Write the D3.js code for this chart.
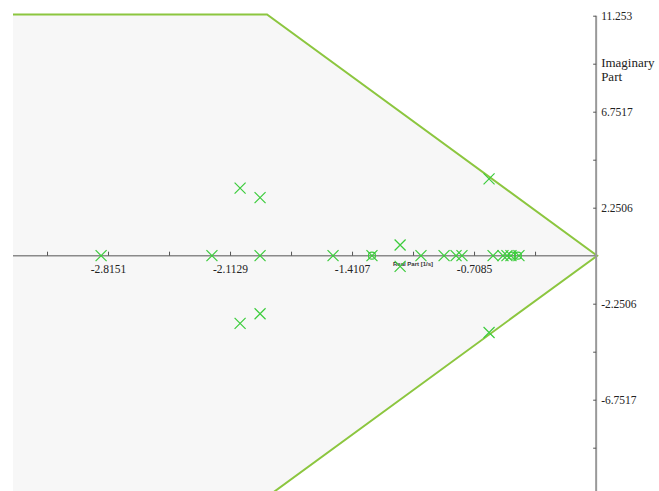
<!DOCTYPE html>
<html>
<head>
<meta charset="utf-8">
<script src="https://cdn.jsdelivr.net/npm/d3@7"></script>
<style>
  body { margin: 0; background: #fff; }
  svg { display: block; }
  text { font-family: "Liberation Serif", "Times New Roman", serif; fill: #222; }
</style>
</head>
<body>
<div id="chart"></div>
<script>
// chart size
let svgWidth = 659;
let svgHeight = 491;

// tick values
let xTicks = [-3.1662, -2.8151, -2.464, -2.1129, -1.7618, -1.4107, -1.0596, -0.7085, -0.3574];
let xTickLabels = ["", "-2.8151", "", "-2.1129", "", "-1.4107", "", "-0.7085", ""];
let yTicks = [11.253, 9.0024, 6.7517, 4.5012, 2.2506, -2.2506, -4.5012, -6.7517, -9.0024, -11.253];
let yTickLabels = ["11.253", "", "6.7517", "", "2.2506", "-2.2506", "", "-6.7517", "", "-11.253"];

// poles (x markers)
let poleRe = [-2.855, -2.217, -2.055, -2.055, -1.94, -1.94, -1.94, -1.52, -1.296, -1.134, -1.134,
              -1.014, -0.881, -0.812, -0.778, -0.622, -0.622, -0.599, -0.542, -0.519, -0.496, -0.45];
let poleIm = [0, 0, 3.17, -3.17, 2.72, -2.72, 0, 0, 0, 0.5, -0.5,
              0, 0, 0, 0, 3.6, -3.6, 0, 0, 0, 0, 0];

// zeros (circles)
let zeroRe = [-1.296, -0.49, -0.456];
let zeroIm = [0, 0, 0];

// damping / frequency region boundary
let regionRe = [-3.362, -1.9, 0, -1.9, -3.362];
let regionIm = [11.31, 11.31, 0, -11.31, -11.31];

let xScale = d3.scaleLinear().domain([-3.362, 0.356]).range([13, 659]);
let yScale = d3.scaleLinear().domain([-11.253, 11.253]).range([495.7, 15.7]);

let svg = d3.select("#chart")
  .append("svg")
  .attr("width", svgWidth)
  .attr("height", svgHeight);

// shaded region
let regionPts = regionRe.map((r, i) => [xScale(r), yScale(regionIm[i])]);
svg.append("path")
  .attr("d", d3.line()(regionPts))
  .attr("fill", "#f7f7f7")
  .attr("stroke", "none");
svg.append("path")
  .attr("d", d3.line()(regionPts.slice(0, 4)))
  .attr("fill", "none")
  .attr("stroke", "#8cc63f")
  .attr("stroke-width", 2);

// x axis (ticks pointing up)
let xAxis = d3.axisTop(xScale)
  .tickValues(xTicks)
  .tickSize(4)
  .tickSizeOuter(0)
  .tickFormat("");
let xg = svg.append("g")
  .attr("transform", `translate(0, ${yScale(0)})`)
  .call(xAxis);
xg.select(".domain")
  .attr("d", `M${xScale(-3.362)},0H${xScale(0)}`)
  .attr("stroke", "#8a8a8a")
  .attr("stroke-width", 1.6);
xg.selectAll(".tick line").attr("stroke", "#555").attr("stroke-width", 1);
xg.selectAll(".tick")
  .append("text")
  .attr("y", 17)
  .attr("text-anchor", "middle")
  .style("font-size", "11.5px")
  .text((d, i) => xTickLabels[i]);

svg.append("text")
  .attr("x", xScale(-1.0596))
  .attr("y", yScale(0) + 10)
  .attr("text-anchor", "middle")
  .style("font-family", "'Liberation Sans', Arial, sans-serif")
  .style("font-size", "6px")
  .style("font-weight", "bold")
  .style("fill", "#333")
  .text("Real Part [1/s]");

// y axis (ticks pointing left, labels right)
let yAxis = d3.axisLeft(yScale)
  .tickValues(yTicks)
  .tickSize(3)
  .tickSizeOuter(0)
  .tickFormat("");
let yg = svg.append("g")
  .attr("transform", `translate(${xScale(0) - 1}, 0)`)
  .call(yAxis);
yg.select(".domain")
  .attr("d", `M0,${yScale(11.253)}V${svgHeight}`)
  .attr("stroke", "#999")
  .attr("stroke-width", 2);
yg.selectAll(".tick line").attr("stroke", "#555").attr("stroke-width", 1);
yg.selectAll(".tick")
  .append("text")
  .attr("x", 5)
  .attr("dy", "0.35em")
  .attr("text-anchor", "start")
  .style("font-size", "11.5px")
  .text((d, i) => yTickLabels[i]);

let yTitle = svg.append("text")
  .attr("x", xScale(0) + 4)
  .attr("y", 67)
  .style("font-size", "13px");
yTitle.append("tspan").attr("x", xScale(0) + 4).text("Imaginary");
yTitle.append("tspan").attr("x", xScale(0) + 4).attr("dy", 14).text("Part");

// poles
let s = 5.5;
svg.append("g")
  .selectAll("path")
  .data(poleRe)
  .enter()
  .append("path")
  .attr("d", (d, i) => {
    let cx = xScale(d), cy = yScale(poleIm[i]);
    return `M${cx - s},${cy - s}L${cx + s},${cy + s}M${cx - s},${cy + s}L${cx + s},${cy - s}`;
  })
  .attr("stroke", "#3ccc3c")
  .attr("stroke-width", 1.2)
  .attr("fill", "none");

// zeros
svg.append("g")
  .selectAll("circle")
  .data(zeroRe)
  .enter()
  .append("circle")
  .attr("cx", (d) => xScale(d))
  .attr("cy", (d, i) => yScale(zeroIm[i]))
  .attr("r", 3.5)
  .attr("stroke", "#3ccc3c")
  .attr("stroke-width", 1.2)
  .attr("fill", "none");
</script>
</body>
</html>
